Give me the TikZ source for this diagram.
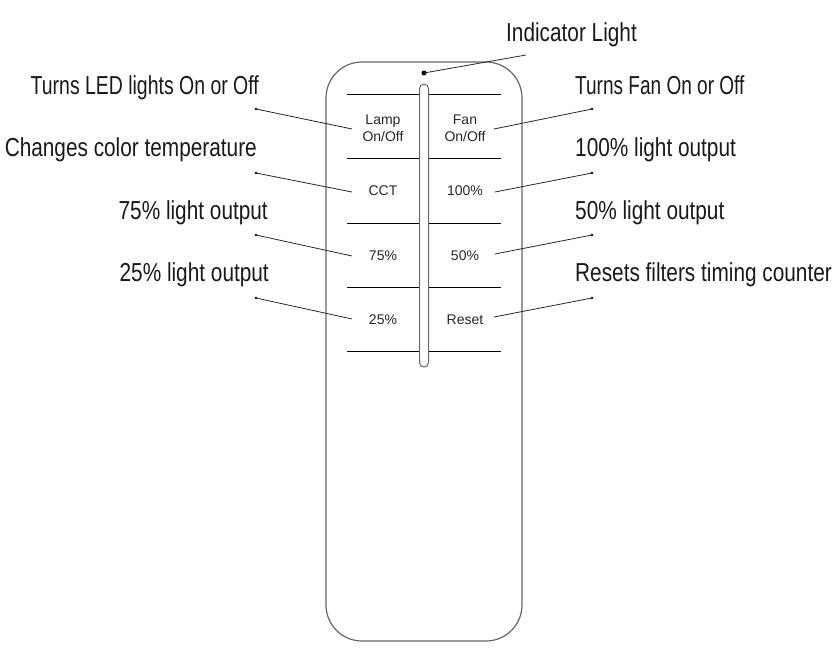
\documentclass[tikz,border=0pt]{standalone}
\usepackage{fontspec}
\usepackage{graphicx}
\newfontfamily\labelfont[FakeStretch=0.8]{Liberation Sans}
\newfontfamily\btnfont{Liberation Sans}
\begin{document}
\begin{tikzpicture}[x=1pt,y=-1pt,
  lbl/.style={inner sep=0pt,font=\labelfont\fontsize{26}{30}\selectfont,text=black!90},
  btn/.style={inner sep=0pt,font=\btnfont\fontsize{14}{17}\selectfont,text=black!85,align=center},
  leader/.style={draw=black!85,line width=0.8pt},
  enddot/.style={circle,fill=black,inner sep=0pt,minimum size=2.6pt},
  sep/.style={draw=black,line width=1pt},
  outline/.style={draw=black!60,line width=1.2pt}]
\useasboundingbox (0,0) rectangle (840,655);
% remote body
\draw[outline,rounded corners=36pt] (326,62) rectangle (522,641);
% separator lines
\foreach \yy in {95,159,223,287,351}{\draw[sep] (347,\yy) -- (501,\yy);}
% slot
\draw[outline,line width=1pt,fill=white,rounded corners=4.5pt] (419.5,84) rectangle (428.5,367);
% indicator
\node[enddot,minimum size=5pt] (ind) at (424,73) {};
\coordinate (indend) at (526,55);
\draw[leader] (ind.center) -- (indend);
\node[lbl,anchor=base west] (tind) at (506,42) {Indicator Light};
% buttons
\node[btn] (lamp) at (383,128) {Lamp\\On/Off};
\node[btn] (fan) at (465,128) {Fan\\On/Off};
\node[btn,anchor=base] (cct) at (383,196) {CCT};
\node[btn,anchor=base] (p100) at (465,196) {100\%};
\node[btn,anchor=base] (p75) at (383,260) {75\%};
\node[btn,anchor=base] (p50) at (465,260) {50\%};
\node[btn,anchor=base] (p25) at (383,324) {25\%};
\node[btn,anchor=base] (reset) at (465,324) {Reset};
% left labels
\node[lbl,anchor=base east] (tled) at (259,95) {\scalebox{0.935}[1]{Turns LED lights On or Off}};
\node[lbl,anchor=base east] (tcct) at (257,157) {Changes color temperature};
\node[lbl,anchor=base east] (t75) at (268,219) {75\% light output};
\node[lbl,anchor=base east] (t25) at (269,281) {25\% light output};
% right labels
\node[lbl,anchor=base west] (tfan) at (575,95) {\scalebox{0.915}[1]{Turns Fan On or Off}};
\node[lbl,anchor=base west] (t100) at (575,157) {100\% light output};
\node[lbl,anchor=base west] (t50) at (575,219) {50\% light output};
\node[lbl,anchor=base west] (treset) at (575,281) {Resets filters timing counter};
% leader dots and lines (left)
\node[enddot] (dled) at (256,109) {};
\node[enddot] (dcct) at (256,173) {};
\node[enddot] (d75) at (256,235) {};
\node[enddot] (d25) at (256,298) {};
\coordinate (eled) at (352,129);
\coordinate (ecct) at (352,192);
\coordinate (e75) at (352,256);
\coordinate (e25) at (352,319);
\draw[leader] (dled.center) -- (eled);
\draw[leader] (dcct.center) -- (ecct);
\draw[leader] (d75.center) -- (e75);
\draw[leader] (d25.center) -- (e25);
% right
\node[enddot] (dfan) at (592,109) {};
\node[enddot] (d100) at (592,173) {};
\node[enddot] (d50) at (592,235) {};
\node[enddot] (dreset) at (592,298) {};
\coordinate (efan) at (494,129);
\coordinate (e100) at (495,192);
\coordinate (e50) at (495,254);
\coordinate (ereset) at (494,317);
\draw[leader] (dfan.center) -- (efan);
\draw[leader] (d100.center) -- (e100);
\draw[leader] (d50.center) -- (e50);
\draw[leader] (dreset.center) -- (ereset);
\end{tikzpicture}
\end{document}
